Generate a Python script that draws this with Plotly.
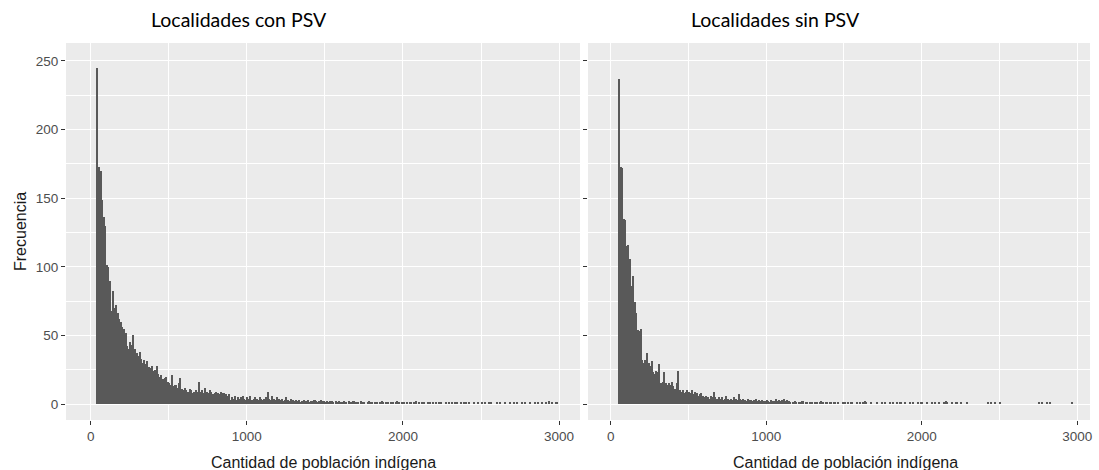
import plotly.graph_objects as go

# ---------------- data ----------------
bin_width = 10
con_start = 40   # first bin start, "Localidades con PSV"
sin_start = 50   # first bin start, "Localidades sin PSV"

con_psv_counts = [
    245, 173, 170, 149, 136, 130, 101, 100, 90, 68, 82, 70, 72, 66, 62, 60, 56, 55, 52, 42, 40, 45, 43, 50, 40, 37,
    35, 38, 33, 30, 32, 29, 31, 27, 26, 28, 24, 25, 28, 22, 20, 21, 18, 19, 20, 16,
    15, 14, 21, 13, 14, 12, 15, 19, 11, 10, 12, 10, 9, 11, 10, 8, 9, 10, 9, 16,
    9, 10, 8, 12, 9, 8, 10, 9, 7, 8, 9, 8, 7, 9, 8, 8, 7, 6, 7, 3,
    5, 4, 6, 3, 5, 4, 5, 6, 4, 3, 5, 4, 6, 3, 4, 5, 4, 3, 5, 4,
    3, 4, 5, 9, 4, 3, 6, 4, 3, 5, 4, 3, 4, 2, 3, 5, 3, 2, 4, 3,
    2, 3, 2, 3, 1, 2, 3, 2, 2, 3, 1, 2, 2, 3, 2, 1, 2, 3, 2, 2,
    1, 2, 1, 2, 2, 1, 0, 2, 1, 2, 1, 1, 2, 1, 0, 2, 1, 1, 2, 1,
    1, 1, 0, 2, 1, 1, 0, 1, 2, 1, 1, 0, 1, 1, 0, 1, 2, 1, 0, 1,
    1, 0, 1, 1, 0, 1, 2, 1, 0, 1, 1, 0, 1, 0, 1, 1, 0, 1, 2, 0,
    1, 0, 1, 1, 0, 0, 1, 1, 0, 1, 0, 1, 0, 1, 1, 0, 0, 1, 0, 1,
    0, 1, 0, 1, 1, 0, 0, 1, 0, 1, 1, 0, 1, 0, 0, 1, 0, 0, 1, 0,
    1, 0, 1, 0, 0, 1, 1, 0, 0, 0, 1, 0, 1, 0, 0, 1, 0, 0, 1, 0,
    0, 1, 0, 1, 0, 0, 1, 0, 1, 0, 0, 1, 0, 0, 1, 0, 1, 0, 0, 1,
    0, 1, 0, 2, 0, 1, 0, 0, 1, 0,
]

sin_psv_counts = [
    237, 173, 172, 135, 134, 115, 116, 106, 86, 93, 74, 66, 54, 53, 55, 32, 30, 32, 37, 30, 28, 31, 23, 22, 24,
    23, 29, 15, 16, 23, 15, 14, 15, 14, 16, 13, 11, 15, 24, 10, 9, 10, 8, 9, 10,
    9, 8, 10, 7, 9, 8, 6, 7, 8, 6, 5, 6, 5, 4, 6, 5, 9, 5, 4, 5,
    4, 5, 3, 4, 6, 4, 3, 4, 3, 5, 4, 3, 7, 4, 3, 4, 3, 2, 4, 3,
    3, 2, 3, 4, 2, 3, 2, 3, 2, 2, 3, 2, 1, 3, 2, 2, 4, 2, 3, 2,
    3, 4, 2, 3, 2, 1, 0, 1, 2, 1, 0, 1, 1, 2, 0, 1, 1, 0, 1, 1,
    0, 1, 1, 0, 1, 2, 1, 0, 1, 1, 0, 1, 0, 1, 1, 0, 1, 0, 0, 1,
    1, 0, 1, 0, 1, 1, 0, 0, 1, 0, 1, 0, 1, 2, 1, 0, 0, 1, 0, 0,
    0, 1, 0, 0, 1, 0, 1, 0, 0, 1, 0, 1, 0, 0, 1, 0, 1, 0, 0, 1,
    0, 0, 1, 0, 1, 0, 0, 1, 0, 1, 1, 0, 0, 1, 0, 0, 1, 0, 1, 0,
    0, 1, 0, 0, 1, 2, 1, 0, 0, 1, 0, 0, 1, 0, 0, 1, 0, 0, 0, 1,
    0, 0, 0, 0, 0, 0, 0, 0, 0, 0, 0, 0, 1, 0, 1, 0, 0, 1, 0, 0,
    1, 0, 0, 0, 0, 0, 0, 0, 0, 0, 0, 0, 0, 0, 0, 0, 0, 0, 0, 0,
    0, 0, 0, 0, 0, 1, 0, 1, 0, 0, 1, 0, 1, 0, 0, 0, 0, 0, 0, 0,
    0, 0, 0, 0, 0, 0, 1, 0, 0, 0,
]

panel_titles = ["Localidades con PSV", "Localidades sin PSV"]
x_title = "Cantidad de población indígena"
y_title = "Frecuencia"
x_ticks = [0, 1000, 2000, 3000]
y_ticks = [0, 50, 100, 150, 200, 250]

# ---------------- figure ----------------
W, H = 1099, 470
BAR = "#595959"

con_x = [con_start + bin_width * i + bin_width / 2 for i in range(len(con_psv_counts))]
sin_x = [sin_start + bin_width * i + bin_width / 2 for i in range(len(sin_psv_counts))]

fig = go.Figure()
fig.add_trace(go.Bar(x=con_x, y=con_psv_counts, width=bin_width, marker=dict(color=BAR, line=dict(width=0)),
                     xaxis="x", yaxis="y", showlegend=False))
fig.add_trace(go.Bar(x=sin_x, y=sin_psv_counts, width=bin_width, marker=dict(color=BAR, line=dict(width=0)),
                     xaxis="x2", yaxis="y2", showlegend=False))

def px(x):
    return x / W

def py(y):
    return 1 - y / H

tickfont = dict(family="Liberation Sans, Arial, sans-serif", size=13.5, color="#4D4D4D")
common_x = dict(
    tickvals=x_ticks, ticks="outside", ticklen=4, tickwidth=1, tickcolor="#333333",
    showgrid=True, gridcolor="white", gridwidth=1.3, zeroline=False, showline=False,
    minor=dict(dtick=500, tick0=500, showgrid=True, gridcolor="white", gridwidth=0.6, ticks=""),
    tickfont=tickfont, automargin=False,
)
common_y = dict(
    tickvals=y_ticks, ticks="outside", ticklen=4, tickwidth=1, tickcolor="#333333",
    showgrid=True, gridcolor="white", gridwidth=1.3, zeroline=False, showline=False,
    minor=dict(dtick=25, tick0=25, showgrid=True, gridcolor="white", gridwidth=0.6, ticks=""),
    tickfont=tickfont, automargin=False, range=[-11.66, 263.1],
)

fig.update_layout(
    width=W, height=H,
    margin=dict(l=0, r=0, t=0, b=0),
    paper_bgcolor="white", plot_bgcolor="#EBEBEB",
    bargap=0,
    xaxis=dict(domain=[px(66), px(580)], range=[-158, 3134], anchor="y", **common_x),
    xaxis2=dict(domain=[px(588), px(1090)], range=[-146, 3082], anchor="y2", **common_x),
    yaxis=dict(domain=[py(420), py(43)], anchor="x", **common_y),
    yaxis2=dict(domain=[py(420), py(43)], anchor="x2", showticklabels=False, **common_y),
)

title_font = dict(family="Lato, Open Sans, sans-serif", size=19.5, color="black")
annotations = [
    dict(text=panel_titles[0], x=px(239), y=py(20), xref="paper", yref="paper",
         showarrow=False, font=title_font, xanchor="center", yanchor="middle"),
    dict(text=panel_titles[1], x=px(775), y=py(20), xref="paper", yref="paper",
         showarrow=False, font=title_font, xanchor="center", yanchor="middle"),
]
axis_title_font = dict(family="Liberation Sans, Arial, sans-serif", size=16, color="#1A1A1A")
annotations.append(dict(text=x_title, x=px(323), y=py(462), xref="paper", yref="paper",
                        showarrow=False, font=axis_title_font, xanchor="center", yanchor="middle"))
annotations.append(dict(text=x_title, x=px(845), y=py(462), xref="paper", yref="paper",
                        showarrow=False, font=axis_title_font, xanchor="center", yanchor="middle"))
annotations.append(dict(text=y_title, x=px(20), y=py(232), xref="paper", yref="paper", textangle=-90,
                        showarrow=False, font=axis_title_font, xanchor="center", yanchor="middle"))
fig.update_layout(annotations=annotations)

fig.write_html("out.html")
